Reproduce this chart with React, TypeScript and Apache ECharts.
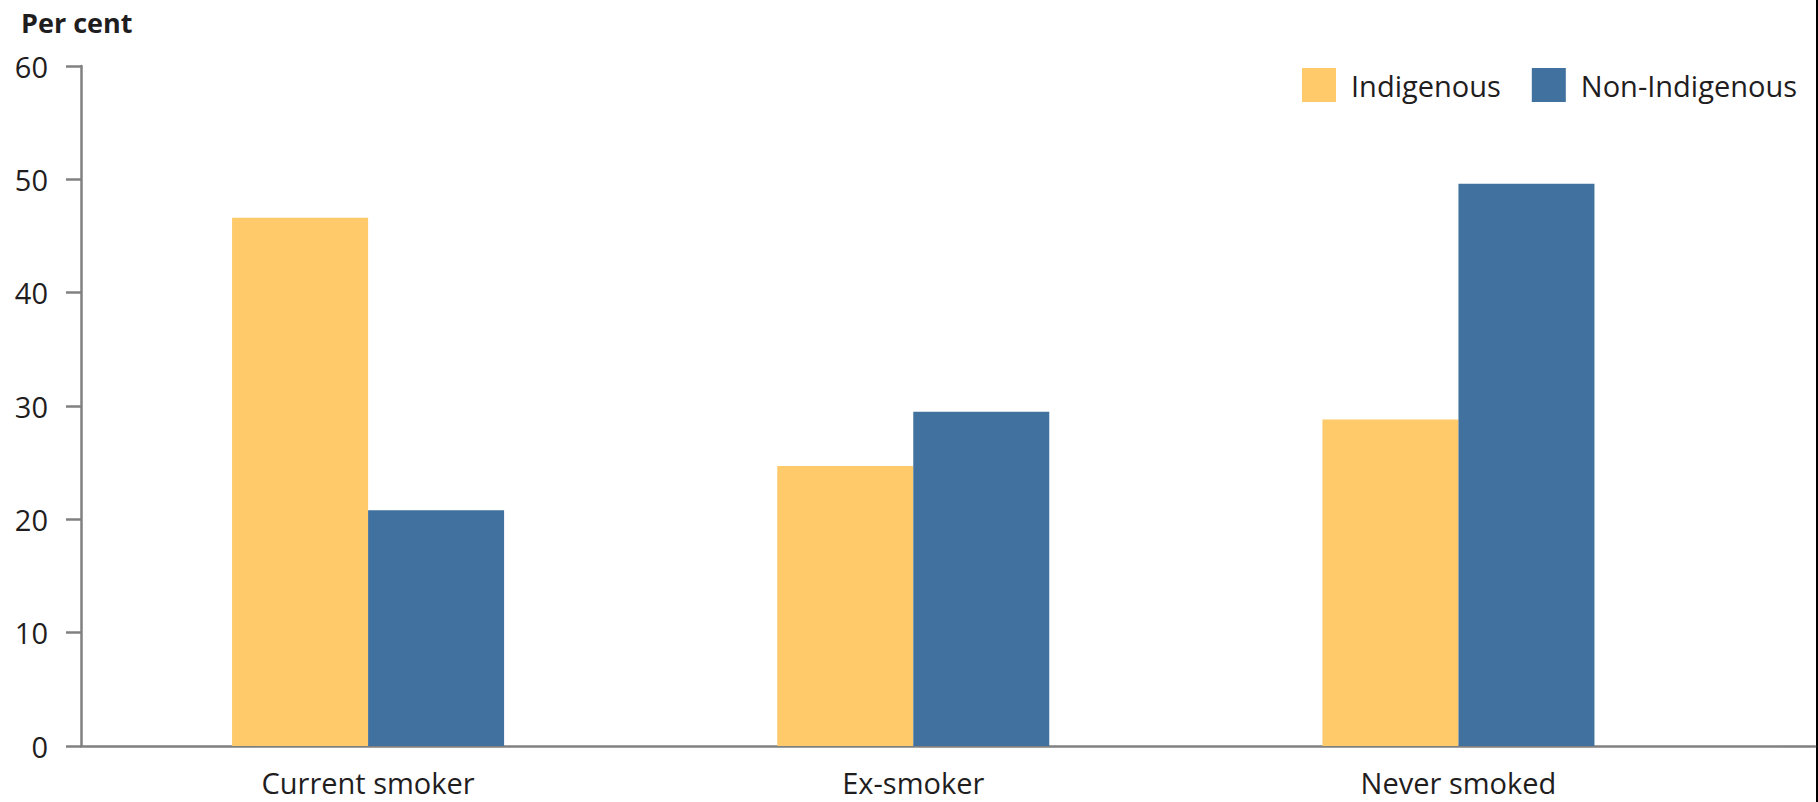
import React, { useEffect, useRef } from "react";
import * as echarts from "echarts";

const categories = ["Current smoker", "Ex-smoker", "Never smoked"];
const indigenous = [46.6, 24.7, 28.8];
const nonIndigenous = [20.8, 29.5, 49.6];
const seriesNames = ["Indigenous", "Non-Indigenous"];
const yTicks = [0, 10, 20, 30, 40, 50, 60];

const FONT = "'Open Sans', sans-serif";
const TEXT = "#1f1d1e";
const AXIS = "#808080";

export default function App() {
  const ref = useRef<HTMLDivElement>(null);
  useEffect(() => {
    if (!ref.current) return;
    const chart = echarts.init(ref.current, undefined, { renderer: "svg" });
    const toPairs = (arr: number[]) => arr.map((v, i) => [i, v]);
    chart.setOption({
      animation: false,
      backgroundColor: "#ffffff",
      textStyle: { fontFamily: FONT, color: TEXT },
      title: {
        text: "Per cent",
        left: 16,
        top: 4,
        textStyle: { fontFamily: FONT, fontWeight: "bold", fontSize: 27, color: TEXT },
      },
      legend: {
        left: 1297,
        top: 63,
        itemWidth: 34,
        itemHeight: 34,
        itemGap: 31,
        icon: "rect",
        data: seriesNames,
        textStyle: { fontFamily: FONT, fontSize: 29, color: TEXT, padding: [0, 0, 0, 10] },
      },
      grid: { left: 81, right: 3, top: 66, bottom: 56, containLabel: false },
      xAxis: {
        type: "value",
        min: -0.5266,
        max: 2.654,
        splitLine: { show: false },
        axisTick: { show: false },
        axisLine: { show: true, onZero: false, lineStyle: { color: AXIS, width: 2.5 } },
        axisLabel: {
          customValues: [0, 1, 2],
          formatter: (v: number) => categories[Math.round(v)] ?? "",
          fontFamily: FONT,
          fontSize: 29,
          lineHeight: 30,
          color: TEXT,
          margin: 21,
        },
      },
      yAxis: {
        type: "value",
        min: 0,
        max: 60,
        interval: 10,
        splitLine: { show: false },
        axisLine: { show: true, onZero: false, lineStyle: { color: AXIS, width: 2.5 } },
        axisTick: { show: true, inside: false, length: 15, lineStyle: { color: AXIS, width: 2.5 } },
        axisLabel: {
          fontFamily: FONT,
          fontSize: 29,
          color: TEXT,
          margin: 33,
          formatter: (v: number) => (yTicks.includes(v) ? String(v) : ""),
        },
      },
      series: [
        {
          name: seriesNames[0],
          type: "bar",
          data: toPairs(indigenous),
          barWidth: 136,
          barGap: "0%",
          itemStyle: { color: "#FECA6A" },
        },
        {
          name: seriesNames[1],
          type: "bar",
          data: toPairs(nonIndigenous),
          barWidth: 136,
          barGap: "0%",
          itemStyle: { color: "#41719F" },
        },
      ],
      graphic: [
        {
          type: "rect",
          right: 0,
          top: 0,
          shape: { width: 2, height: 802 },
          style: { fill: "#000000" },
          silent: true,
        },
      ],
    });
    return () => chart.dispose();
  }, []);
  return (
    <div
      ref={ref}
      style={{ position: "fixed", left: 0, top: 0, width: 1818, height: 802 }}
    />
  );
}
